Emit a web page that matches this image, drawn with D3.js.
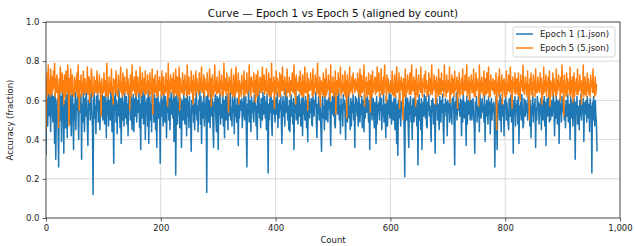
<!DOCTYPE html>
<html>
<head>
<meta charset="utf-8">
<script src="https://cdn.jsdelivr.net/npm/d3@7"></script>
<style>
  body { margin: 0; background: #fff; }
  svg { font-family: "DejaVu Sans", sans-serif; }
</style>
</head>
<body>
<div id="grafico"></div>
<script>
// accuracy per count, in percent
var epoch1 = [
  32,55,61,47,66,58,52,63,44,60,67,54,49,62,57,38,64,30,53,59,
  61,45,26,57,65,50,62,39,58,68,55,33,60,52,46,63,57,41,66,54,
  59,48,63,56,42,61,67,53,35,58,50,64,45,60,55,69,51,40,62,57,
  54,63,30,58,49,65,56,44,61,52,67,57,47,37,60,55,63,50,58,66,
  53,46,12,59,64,51,57,43,62,55,68,49,60,54,45,63,58,52,65,50,
  57,62,48,55,66,41,59,53,63,47,60,56,50,67,58,44,61,54,28,62,
  55,65,49,60,43,58,52,66,57,46,61,38,54,63,50,59,47,64,56,51,
  62,48,58,42,65,55,60,50,67,53,45,59,63,44,56,61,52,68,49,57,
  60,54,64,46,58,35,62,51,57,66,48,55,63,40,59,53,61,47,65,38,
  56,62,50,58,44,66,54,60,49,63,57,45,61,36,55,64,51,59,53,28,
  58,63,52,60,47,65,55,49,62,57,41,59,54,67,50,61,45,58,64,53,
  60,51,66,39,57,62,22,55,63,48,59,53,68,46,58,61,36,54,60,50,
  63,55,48,61,57,42,65,52,59,46,62,56,50,34,60,54,66,49,58,45,
  61,53,64,50,57,44,60,55,67,48,62,38,56,59,51,65,47,58,54,62,
  13,57,63,49,60,54,46,66,52,58,61,45,36,59,55,63,50,44,62,56,
  35,61,53,64,48,58,55,51,66,47,60,41,57,62,50,56,63,45,59,52,
  58,64,50,56,47,62,54,60,43,65,52,57,49,61,55,37,63,51,58,60,
  55,61,46,59,52,64,50,57,62,45,26,58,53,66,49,60,56,44,62,54,
  59,52,49,63,55,60,47,57,40,62,54,65,51,58,46,61,56,50,64,53,
  57,62,51,59,45,63,55,23,58,50,61,54,66,48,42,60,53,57,62,49,
  56,61,53,64,46,58,51,60,55,63,49,38,57,62,52,59,47,65,54,58,
  62,50,57,45,60,44,55,63,52,59,48,61,35,58,54,66,50,57,62,48,
  55,63,52,58,47,61,56,42,64,53,59,50,62,55,46,60,39,57,63,51,
  59,54,61,48,47,63,56,52,60,57,64,49,41,58,53,62,50,59,55,45,
  34,58,62,51,57,45,63,55,50,60,54,49,61,56,65,52,37,59,53,62,
  57,52,64,48,46,60,55,62,53,59,66,50,57,43,61,54,58,47,63,56,
  60,53,40,58,62,49,56,64,51,57,45,61,47,59,54,63,50,58,36,62,
  55,61,52,59,47,64,56,49,58,53,62,46,60,55,44,63,51,57,61,54,
  62,56,49,60,35,58,53,64,50,57,61,52,46,59,55,38,62,48,58,54,
  59,50,63,55,61,45,57,52,64,49,58,54,41,62,56,47,60,53,65,51,
  57,63,48,59,54,50,61,56,45,62,53,38,58,32,60,51,64,55,47,59,
  54,60,52,57,44,21,58,63,50,56,61,47,36,59,53,62,49,57,40,60,
  61,49,56,62,52,58,47,60,27,55,63,50,58,45,61,35,54,59,52,63,
  56,51,62,47,46,59,55,63,52,57,49,39,60,54,61,48,58,53,33,62,
  57,61,50,58,53,45,62,56,49,60,54,63,47,38,58,52,61,55,59,42,
  60,54,58,49,63,55,51,48,61,56,62,47,27,59,53,64,50,57,61,55,
  58,52,61,55,42,60,49,63,56,51,59,54,37,62,48,57,60,53,64,50,
  55,60,50,58,61,53,47,33,59,55,62,49,57,52,60,44,63,56,51,58,
  61,54,57,49,63,39,58,52,60,55,48,62,53,59,43,56,61,50,58,54,
  59,51,26,57,62,48,35,60,54,58,50,63,56,44,61,52,58,55,42,60,
  57,62,50,59,54,48,45,61,56,52,63,49,58,55,33,60,53,62,47,58,
  54,60,48,62,38,57,53,59,50,63,55,46,48,61,56,52,60,54,58,50,
  62,55,59,47,60,41,57,53,63,49,58,54,61,36,56,50,62,55,59,48,
  58,53,61,45,57,60,50,56,62,47,59,37,55,61,52,58,63,49,57,50,
  55,60,52,58,63,56,42,59,51,62,54,48,60,56,38,61,53,58,49,62,
  59,54,61,50,57,46,60,55,52,63,49,58,56,40,62,51,57,60,47,55,
  61,56,30,59,53,62,48,57,55,45,60,52,63,50,58,54,61,39,57,59,
  53,60,49,62,56,51,58,44,61,54,57,23,59,50,62,55,47,60,52,48,
  34
];

var epoch5 = [
  45,66,74,63,78,64,70,62,76,68,63,72,65,75,67,79,62,71,64,73,
  68,63,46,71,65,77,64,69,74,64,70,58,73,66,62,75,69,64,78,65,
  47,71,64,76,63,68,73,63,66,62,72,65,70,64,74,62,78,67,55,70,
  65,73,62,69,64,75,66,63,71,65,68,64,77,63,67,72,59,70,64,76,
  73,62,67,63,72,65,70,64,68,75,63,66,65,73,64,69,52,71,63,67,
  64,74,65,70,62,68,79,62,66,63,72,64,69,65,76,63,67,58,71,66,
  70,64,75,63,68,62,73,67,70,65,77,64,69,62,74,63,66,72,64,69,
  65,76,63,71,64,68,55,73,66,62,78,65,70,65,72,63,68,75,62,67,
  72,64,69,64,77,62,70,63,74,65,67,71,63,75,63,68,64,73,66,70,
  62,74,63,69,65,76,53,71,66,64,73,64,68,62,75,62,70,65,72,65,
  69,62,75,63,68,72,63,67,64,74,65,70,57,79,62,69,64,73,66,71,
  64,67,74,62,70,64,76,63,69,72,62,66,77,55,71,65,68,64,74,63,
  70,63,73,66,69,62,78,63,68,72,63,67,65,75,64,70,58,73,66,69,
  62,75,64,71,65,68,63,74,67,65,70,77,64,69,64,73,62,71,66,68,
  65,74,63,69,62,76,66,71,57,68,73,62,67,64,78,65,70,63,72,64,
  68,64,75,63,70,66,73,62,69,63,79,65,67,71,63,74,65,69,54,72,
  66,70,64,76,63,68,62,73,67,62,71,77,64,69,65,74,58,70,64,68,
  62,73,66,69,63,75,62,70,64,68,74,63,67,65,78,65,71,62,72,67,
  69,64,74,64,70,59,73,67,62,75,63,69,66,72,64,71,64,77,65,68,
  73,63,70,65,76,64,68,63,74,62,71,67,62,79,64,69,65,72,56,70,
  64,75,63,71,67,69,62,74,62,68,73,65,77,65,70,63,72,66,69,62,
  76,64,69,64,72,62,70,67,65,74,64,68,78,63,71,58,73,66,69,65,
  67,72,64,75,63,69,62,73,66,62,70,77,64,68,64,74,55,71,65,69,
  65,74,66,70,62,76,63,68,64,73,67,71,63,79,64,69,62,72,57,70,
  65,69,63,74,62,71,67,62,76,63,68,65,73,66,70,60,78,64,69,64,
  72,62,69,65,75,53,70,66,63,74,64,71,67,77,62,69,64,73,65,68,
  63,75,62,70,51,73,66,69,62,77,64,68,65,72,63,74,67,70,64,71,
  66,69,65,74,64,71,62,76,62,68,73,64,70,65,78,57,69,67,72,62,
  69,63,74,63,70,54,73,67,62,75,64,69,66,72,63,71,64,77,65,68,
  74,62,68,65,76,63,70,63,72,64,78,67,69,59,73,65,71,64,68,64,
  70,66,64,75,63,68,62,73,67,62,71,77,64,69,65,74,56,70,66,72,
  65,69,50,71,64,62,76,62,68,64,73,66,70,63,74,67,63,78,65,69,
  65,72,63,70,57,76,63,68,62,73,66,69,64,77,64,71,62,69,67,73,
  64,75,66,70,62,68,63,74,65,71,63,69,78,63,67,65,73,66,70,58,
  72,64,69,62,76,63,71,66,63,74,65,68,70,62,78,65,69,62,73,67,
  64,70,65,77,59,69,63,73,64,71,67,62,75,65,68,66,72,56,70,64,
  74,62,68,66,71,63,76,63,69,65,73,67,65,78,62,70,64,72,60,69,
  66,73,64,70,64,76,62,68,62,74,65,71,67,69,57,78,63,70,64,72,
  65,69,62,75,63,71,67,63,74,64,68,77,62,70,62,73,66,69,65,71,
  67,63,70,64,74,45,69,65,72,62,76,64,68,65,73,58,70,66,71,62,
  69,62,75,63,68,65,73,67,64,77,65,70,56,72,66,69,64,74,63,68,
  71,65,63,74,62,69,60,73,67,70,65,78,64,68,63,72,66,69,62,75,
  63,68,50,71,65,74,63,69,62,73,66,70,62,76,64,67,64,72,65,69,
  64,74,66,71,58,68,63,77,64,70,65,73,62,69,67,72,62,75,57,70,
  66,69,62,74,63,71,65,68,62,76,63,70,65,73,67,69,60,72,64,78,
  64,70,52,73,65,68,62,74,63,71,66,69,63,77,62,70,64,72,59,68,
  74,62,69,65,71,63,76,63,68,65,73,66,70,58,69,64,78,62,67,72,
  63,69,62,74,65,71,63,68,62,73,67,70,64,76,64,69,62,72,63,68,
  68
];

var xTicks = [0, 200, 400, 600, 800, 1000];
var yTicks = [0, 20, 40, 60, 80, 100];
var series = [
  { nome: "Epoch 1 (1.json)", valores: epoch1, cor: "#1f77b4" },
  { nome: "Epoch 5 (5.json)", valores: epoch5, cor: "#ff7f0e" }
];

var largura = 635, altura = 246;
var esq = 46, dir = 620, topo = 22, base = 218;

var svg = d3.select("#grafico").append("svg")
  .attr("width", largura)
  .attr("height", altura);

var x = d3.scaleLinear().domain([0, 1000]).range([esq, dir]);
var y = d3.scaleLinear().domain([0, 100]).range([base, topo]);

// grade
svg.append("g").selectAll("line").data(xTicks).enter().append("line")
  .attr("x1", d => x(d)).attr("x2", d => x(d))
  .attr("y1", topo).attr("y2", base)
  .attr("stroke", "#b0b0b0").attr("stroke-opacity", 0.6).attr("stroke-width", 0.8);
svg.append("g").selectAll("line").data(yTicks).enter().append("line")
  .attr("x1", esq).attr("x2", dir)
  .attr("y1", d => y(d)).attr("y2", d => y(d))
  .attr("stroke", "#b0b0b0").attr("stroke-opacity", 0.6).attr("stroke-width", 0.8);

svg.append("clipPath").attr("id", "area")
  .append("rect").attr("x", esq).attr("y", topo)
  .attr("width", dir - esq).attr("height", base - topo);

var linha = d3.line()
  .x((d, i) => x(i))
  .y(d => y(d));

series.forEach(s => {
  svg.append("path")
    .attr("clip-path", "url(#area)")
    .attr("d", linha(s.valores))
    .attr("fill", "none")
    .attr("stroke", s.cor)
    .attr("stroke-width", 1.5)
    .attr("stroke-linejoin", "round");
});

// eixos
var eixoX = svg.append("g")
  .attr("transform", "translate(0," + base + ")")
  .call(d3.axisBottom(x).tickValues(xTicks).tickSize(3.5).tickPadding(3));
var eixoY = svg.append("g")
  .attr("transform", "translate(" + esq + ",0)")
  .call(d3.axisLeft(y).tickValues(yTicks).tickSize(3.5).tickPadding(3)
    .tickFormat(d => (d / 100).toFixed(1)));
[eixoX, eixoY].forEach(g => {
  g.select(".domain").remove();
  g.selectAll("text").attr("font-size", 8.5).attr("fill", "#222")
    .attr("font-family", "DejaVu Sans");
  g.selectAll("line").attr("stroke", "#333").attr("stroke-width", 0.8);
});

// moldura
svg.append("rect")
  .attr("x", esq).attr("y", topo)
  .attr("width", dir - esq).attr("height", base - topo)
  .attr("fill", "none").attr("stroke", "#333").attr("stroke-width", 0.8);

// titulos
svg.append("text")
  .attr("x", (esq + dir) / 2).attr("y", 17)
  .attr("text-anchor", "middle").attr("font-size", 10.5).attr("fill", "#111")
  .text("Curve — Epoch 1 vs Epoch 5 (aligned by count)");
svg.append("text")
  .attr("x", (esq + dir) / 2).attr("y", 243)
  .attr("text-anchor", "middle").attr("font-size", 8.5).attr("fill", "#222")
  .text("Count");
svg.append("text")
  .attr("transform", "translate(13," + (topo + base) / 2 + ") rotate(-90)")
  .attr("text-anchor", "middle").attr("font-size", 8.5).attr("fill", "#222")
  .text("Accuracy (fraction)");

// legenda
var leg = svg.append("g");
leg.append("rect")
  .attr("x", 513).attr("y", 27).attr("width", 102).attr("height", 30)
  .attr("rx", 2).attr("fill", "#fff").attr("fill-opacity", 0.8)
  .attr("stroke", "#ccc").attr("stroke-width", 0.8);
series.forEach((s, i) => {
  var ly = 34 + i * 14;
  leg.append("line")
    .attr("x1", 516).attr("x2", 533).attr("y1", ly).attr("y2", ly)
    .attr("stroke", s.cor).attr("stroke-width", 1.5);
  leg.append("text")
    .attr("x", 540).attr("y", ly + 3)
    .attr("font-size", 8.5).attr("fill", "#222")
    .text(s.nome);
});
</script>
</body>
</html>
